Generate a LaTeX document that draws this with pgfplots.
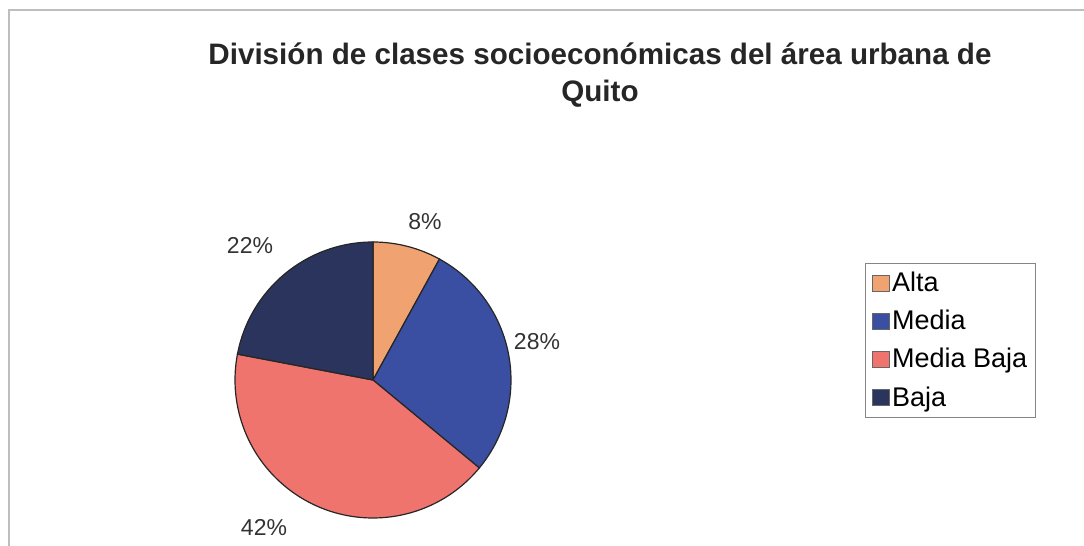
\documentclass[border=0pt]{standalone}
\usepackage{pgfplots}
\pgfplotsset{compat=1.18}
\usepackage{pgfplotstable}
\usepackage{fontspec}
\setmainfont{Liberation Sans}
\definecolor{altaC}{RGB}{240,162,112}
\definecolor{mediaC}{RGB}{58,78,162}
\definecolor{mbajaC}{RGB}{240,116,110}
\definecolor{bajaC}{RGB}{42,52,92}
\definecolor{frameC}{RGB}{190,190,190}
% values (percent), clockwise from 12 o'clock
\pgfplotstableread{
label value
Alta 8
Media 28
MediaBaja 42
Baja 22
}\piedata
\pgfplotstablegetelem{0}{value}\of\piedata \let\vA\pgfplotsretval
\pgfplotstablegetelem{1}{value}\of\piedata \let\vB\pgfplotsretval
\pgfplotstablegetelem{2}{value}\of\piedata \let\vC\pgfplotsretval
\pgfplotstablegetelem{3}{value}\of\piedata \let\vD\pgfplotsretval
\begin{document}
\begin{tikzpicture}
\pgfmathsetmacro{\aA}{90}
\pgfmathsetmacro{\aB}{90-3.6*\vA}
\pgfmathsetmacro{\aC}{\aB-3.6*\vB}
\pgfmathsetmacro{\aD}{\aC-3.6*\vC}
\pgfmathsetmacro{\aE}{\aD-3.6*\vD}
\begin{axis}[
  scale only axis, width=542pt, height=273pt,
  xmin=0, xmax=1084, ymin=0, ymax=546,
  hide axis, clip=false,
  legend style={at={(axis cs:865,283)}, anchor=north west, draw=frameC!70!black, line width=0.5pt,
    font=\fontsize{13.5}{15}\selectfont, row sep=5.2pt, inner xsep=3pt, inner ysep=3pt,
    nodes={inner sep=1.3pt}},
  legend cell align=left,
  legend image code/.code={\draw[#1, draw=black!60, line width=0.5pt] (1.5pt,-4pt) rectangle (10pt,4pt);},
  legend image post style={},
]
% frame
\addplot[draw=frameC, line width=1pt, forget plot] coordinates {(9,0) (9,536) (1084,536)};
% pie slices
\def\R{69pt}
\fill[altaC, draw=black!85, line width=0.6pt] (axis cs:373,166) -- ++(\aA:\R) arc[start angle=\aA, end angle=\aB, radius=\R] -- cycle;
\fill[mediaC, draw=black!85, line width=0.6pt] (axis cs:373,166) -- ++(\aB:\R) arc[start angle=\aB, end angle=\aC, radius=\R] -- cycle;
\fill[mbajaC, draw=black!85, line width=0.6pt] (axis cs:373,166) -- ++(\aC:\R) arc[start angle=\aC, end angle=\aD, radius=\R] -- cycle;
\fill[bajaC, draw=black!85, line width=0.6pt] (axis cs:373,166) -- ++(\aD:\R) arc[start angle=\aD, end angle=\aE, radius=\R] -- cycle;
\addlegendimage{fill=altaC}\addlegendentry{Alta}
\addlegendimage{fill=mediaC}\addlegendentry{Media}
\addlegendimage{fill=mbajaC}\addlegendentry{Media Baja}
\addlegendimage{fill=bajaC}\addlegendentry{Baja}
% labels
\node[font=\fontsize{11.5}{13}\selectfont, text=black!80, inner sep=0pt] at (axis cs:425,324) {8\%};
\node[font=\fontsize{11.5}{13}\selectfont, text=black!80, inner sep=0pt] at (axis cs:537,204) {28\%};
\node[font=\fontsize{11.5}{13}\selectfont, text=black!80, inner sep=0pt] at (axis cs:264,18) {42\%};
\node[font=\fontsize{11.5}{13}\selectfont, text=black!80, inner sep=0pt] at (axis cs:250,300) {22\%};
% title
\node[font=\bfseries\fontsize{14.8}{18.5}\selectfont, align=center, text=black!85] at (axis cs:600,471) {División de clases socioeconómicas del área urbana de\\Quito};
\end{axis}
\pgfresetboundingbox
\path (current axis.south west) rectangle (current axis.north east);
\end{tikzpicture}
\end{document}
